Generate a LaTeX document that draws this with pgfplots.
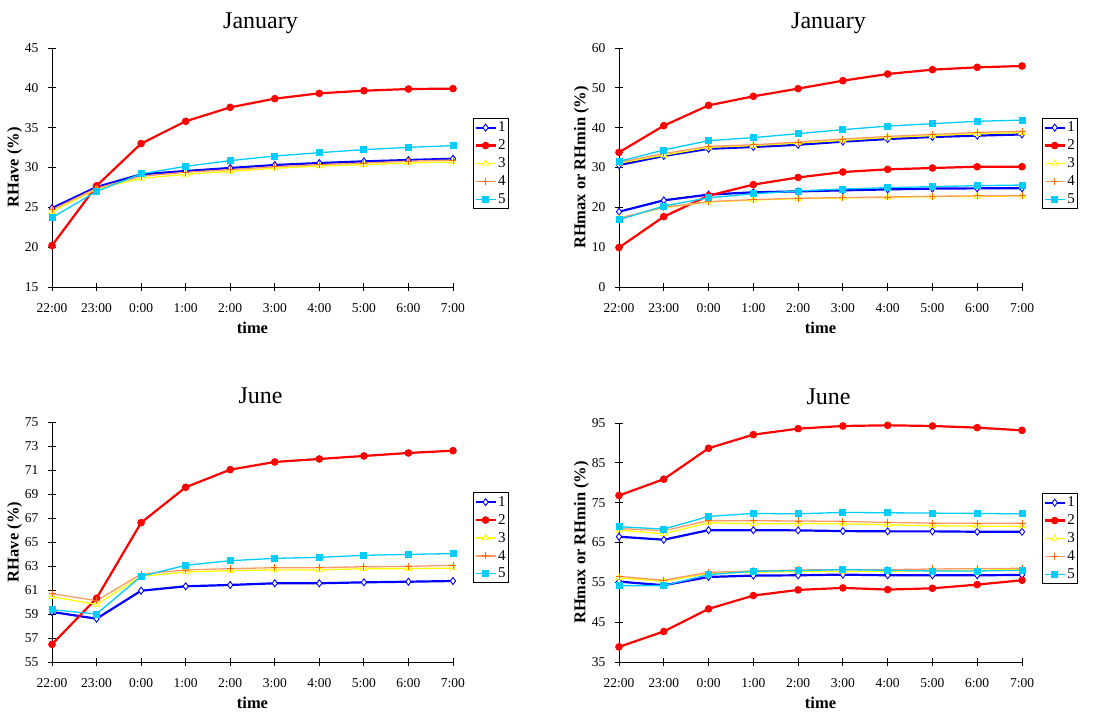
\documentclass[border=0pt]{standalone}
\usepackage{fontspec}
\setmainfont{Liberation Serif}
\usepackage{pgfplots}
\pgfplotsset{compat=1.18}

\definecolor{c1}{RGB}{0,0,255}
\definecolor{c2}{RGB}{255,0,0}
\definecolor{c3}{RGB}{255,255,0}
\definecolor{c4line}{RGB}{255,153,102}
\definecolor{c4mark}{RGB}{255,102,0}
\definecolor{c5}{RGB}{0,204,255}

\pgfplotsset{
  panel/.style={
    width=401pt, height=239pt, scale only axis,
    anchor=south west,
    axis lines=left, axis line style={-, black, line width=0.9pt},
    xmin=0, xmax=9, xtick={0,...,9},
    xticklabels={22:00,23:00,0:00,1:00,2:00,3:00,4:00,5:00,6:00,7:00},
    tick align=center, major tick length=8pt,
    tick style={black, line width=0.9pt},
    ticklabel style={font=\fontsize{13.5}{15}\selectfont},
    xticklabel style={yshift=-9pt},
    yticklabel style={xshift=-6pt},
    /pgf/number format/assume math mode=true,
    xlabel={time},
    xlabel style={font=\fontsize{16.5}{19}\selectfont\bfseries, at={(axis description cs:0.5,-0.17)}, anchor=center},
    ylabel style={font=\fontsize{16.5}{19}\selectfont\bfseries, at={(axis description cs:-0.093,0.5)}, anchor=center},
    title style={font=\fontsize{24}{28}\selectfont, at={(axis description cs:0.52,1)}, anchor=center},
    clip=false,
    legend style={at={(1.05,0.517)}, anchor=west, draw=black, line width=0.9pt,
      font=\fontsize{15}{17}\selectfont, inner xsep=1pt, inner ysep=2pt,
      row sep=3.5pt, nodes={inner sep=1.5pt}},
    legend cell align=left,
    legend image code/.code={\draw[mark repeat=2,mark phase=2] plot coordinates {(0pt,0pt) (10pt,0pt) (20pt,0pt)};},
  },
  s1/.style={color=c1, line width=2.2pt, mark=diamond*, mark size=3.5pt, mark options={fill=white, line width=0.9pt, solid}},
  s2/.style={color=c2, line width=2.2pt, mark=*, mark size=3.4pt, mark options={line width=0.8pt}},
  s3/.style={color=c3, line width=1.3pt, mark=triangle*, mark size=3.5pt, mark options={fill=white, line width=0.9pt}},
  s4/.style={color=c4line, line width=1.3pt, mark=+, mark size=3.5pt, mark options={draw=c4mark, line width=0.9pt}},
  s5/.style={color=c5, line width=1.3pt, mark=square*, mark size=3pt, mark options={line width=0.8pt}},
}

\begin{document}
\begin{tikzpicture}
\path[use as bounding box] (0pt,0pt) rectangle (1117pt,-714pt);

% ---------- January RHave ----------
\begin{axis}[panel, at={(52pt,-287pt)}, title={January}, ylabel={RHave (\%)},
  ymin=15, ymax=45, ytick={15,20,...,45}, title style={yshift=19pt}]
\addplot[s1] coordinates {(0,24.9)(1,27.55)(2,29.14)(3,29.56)(4,29.94)(5,30.31)(6,30.56)(7,30.77)(8,30.94)(9,31.1)};
\addplot[s2] coordinates {(0,20.2)(1,27.7)(2,33.0)(3,35.8)(4,37.55)(5,38.64)(6,39.31)(7,39.64)(8,39.85)(9,39.9)};
\addplot[s3] coordinates {(0,24.46)(1,27.3)(2,28.64)(3,29.14)(4,29.52)(5,29.9)(6,30.19)(7,30.36)(8,30.56)(9,30.7)};
\addplot[s4] coordinates {(0,24.7)(1,27.4)(2,28.9)(3,29.4)(4,29.73)(5,30.1)(6,30.36)(7,30.56)(8,30.8)(9,30.94)};
\addplot[s5] coordinates {(0,23.7)(1,27.0)(2,29.2)(3,30.15)(4,30.86)(5,31.44)(6,31.86)(7,32.24)(8,32.53)(9,32.74)};
\legend{1,2,3,4,5}
\end{axis}

% ---------- January RHmax / RHmin ----------
\begin{axis}[panel, at={(619pt,-287pt)}, width=403pt, title={January}, ylabel={RHmax or RHmin (\%)},
  ymin=0, ymax=60, ytick={0,10,...,60}, title style={yshift=19pt}]
\addplot[s1] coordinates {(0,30.6)(1,32.9)(2,34.7)(3,35.15)(4,35.7)(5,36.5)(6,37.15)(7,37.66)(8,38.0)(9,38.3)};
\addplot[s2] coordinates {(0,33.8)(1,40.5)(2,45.6)(3,47.87)(4,49.8)(5,51.8)(6,53.47)(7,54.56)(8,55.15)(9,55.48)};
\addplot[s3] coordinates {(0,31.1)(1,33.1)(2,35.06)(3,35.5)(4,36.15)(5,36.8)(6,37.57)(7,38.0)(8,38.5)(9,38.75)};
\addplot[s4] coordinates {(0,31.3)(1,33.5)(2,35.3)(3,35.7)(4,36.4)(5,37.15)(6,37.8)(7,38.3)(8,38.8)(9,39.1)};
\addplot[s5] coordinates {(0,31.5)(1,34.4)(2,36.74)(3,37.5)(4,38.5)(5,39.5)(6,40.4)(7,41.0)(8,41.6)(9,41.9)};
\addplot[s1, forget plot] coordinates {(0,18.9)(1,21.76)(2,23.2)(3,23.77)(4,24.0)(5,24.27)(6,24.5)(7,24.7)(8,24.77)(9,24.77)};
\addplot[s2, forget plot] coordinates {(0,9.9)(1,17.66)(2,22.93)(3,25.7)(4,27.5)(5,28.87)(6,29.54)(7,29.87)(8,30.2)(9,30.2)};
\addplot[s3, forget plot] coordinates {(0,17.2)(1,19.9)(2,21.34)(3,21.84)(4,22.18)(5,22.34)(6,22.5)(7,22.68)(8,22.76)(9,22.85)};
\addplot[s4, forget plot] coordinates {(0,17.3)(1,20.0)(2,21.44)(3,21.94)(4,22.28)(5,22.44)(6,22.6)(7,22.78)(8,22.86)(9,22.95)};
\addplot[s5, forget plot] coordinates {(0,16.9)(1,20.33)(2,22.4)(3,23.4)(4,24.1)(5,24.6)(6,24.94)(7,25.2)(8,25.44)(9,25.6)};
\legend{1,2,3,4,5}
\end{axis}

% ---------- June RHave ----------
\begin{axis}[panel, at={(52pt,-662pt)}, height=240pt, title={June}, ylabel={RHave (\%)},
  ymin=55, ymax=75, ytick={55,57,...,75}, title style={yshift=20pt}]
\addplot[s1] coordinates {(0,59.17)(1,58.61)(2,60.94)(3,61.31)(4,61.42)(5,61.56)(6,61.56)(7,61.64)(8,61.69)(9,61.75)};
\addplot[s2] coordinates {(0,56.47)(1,60.31)(2,66.61)(3,69.56)(4,71.03)(5,71.67)(6,71.92)(7,72.17)(8,72.42)(9,72.61)};
\addplot[s3] coordinates {(0,60.44)(1,59.8)(2,62.14)(3,62.5)(4,62.61)(5,62.67)(6,62.67)(7,62.78)(8,62.78)(9,62.83)};
\addplot[s4] coordinates {(0,60.69)(1,60.11)(2,62.33)(3,62.67)(4,62.78)(5,62.86)(6,62.86)(7,62.94)(8,62.97)(9,63.06)};
\addplot[s5] coordinates {(0,59.36)(1,59.0)(2,62.14)(3,63.06)(4,63.44)(5,63.64)(6,63.72)(7,63.89)(8,63.97)(9,64.03)};
\legend{1,2,3,4,5}
\end{axis}

% ---------- June RHmax / RHmin ----------
\begin{axis}[panel, at={(619pt,-662pt)}, width=403pt, title={June}, ylabel={RHmax or RHmin (\%)},
  ymin=35, ymax=95, ytick={35,45,...,95}, title style={yshift=20pt}]
\addplot[s1] coordinates {(0,66.45)(1,65.7)(2,68.1)(3,68.1)(4,68.04)(5,67.87)(6,67.8)(7,67.8)(8,67.7)(9,67.7)};
\addplot[s2] coordinates {(0,76.8)(1,80.9)(2,88.66)(3,92.08)(4,93.58)(5,94.25)(6,94.42)(7,94.25)(8,93.83)(9,93.16)};
\addplot[s3] coordinates {(0,68.1)(1,67.2)(2,69.96)(3,69.7)(4,69.7)(5,69.7)(6,69.45)(7,69.2)(8,69.1)(9,69.1)};
\addplot[s4] coordinates {(0,68.5)(1,67.95)(2,70.5)(3,70.46)(4,70.4)(5,70.3)(6,70.04)(7,69.87)(8,69.8)(9,69.8)};
\addplot[s5] coordinates {(0,68.96)(1,68.37)(2,71.55)(3,72.3)(4,72.2)(5,72.55)(6,72.46)(7,72.38)(8,72.3)(9,72.2)};
\addplot[s1, forget plot] coordinates {(0,55.18)(1,54.27)(2,56.35)(3,56.69)(4,56.77)(5,56.94)(6,56.77)(7,56.77)(8,56.77)(9,56.85)};
\addplot[s2, forget plot] coordinates {(0,38.8)(1,42.66)(2,48.34)(3,51.68)(4,53.1)(5,53.6)(6,53.18)(7,53.5)(8,54.43)(9,55.52)};
\addplot[s3, forget plot] coordinates {(0,56.1)(1,55.27)(2,57.27)(3,57.52)(4,57.69)(5,57.77)(6,57.77)(7,57.94)(8,58.02)(9,58.27)};
\addplot[s4, forget plot] coordinates {(0,56.5)(1,55.52)(2,57.52)(3,57.85)(4,58.1)(5,58.19)(6,58.19)(7,58.35)(8,58.44)(9,58.52)};
\addplot[s5, forget plot] coordinates {(0,54.18)(1,54.18)(2,56.94)(3,57.77)(4,57.94)(5,58.19)(6,58.02)(7,57.85)(8,57.85)(9,58.02)};
\legend{1,2,3,4,5}
\end{axis}
\end{tikzpicture}
\end{document}
